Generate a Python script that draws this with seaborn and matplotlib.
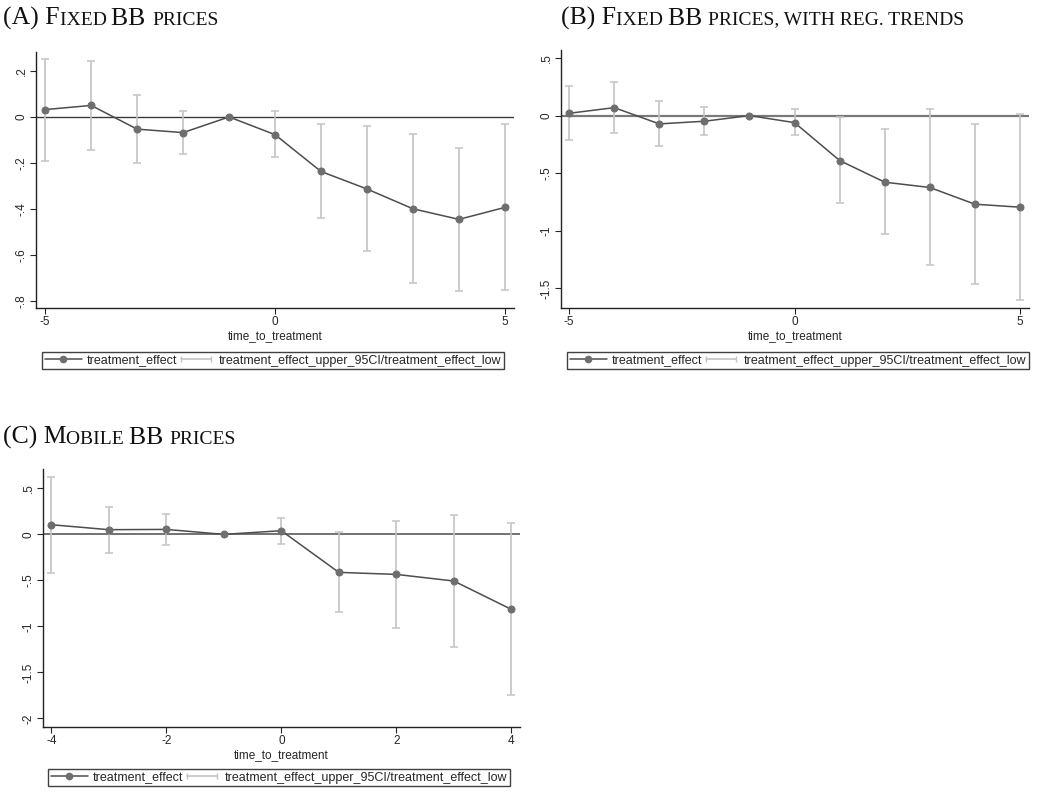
import matplotlib
matplotlib.use("Agg")
import matplotlib.pyplot as plt
import seaborn as sns
from matplotlib.ticker import FuncFormatter
from matplotlib.offsetbox import TextArea, HPacker, AnchoredOffsetbox
from matplotlib.lines import Line2D
from matplotlib.legend_handler import HandlerLine2D

# ---- data ----
time_ab = [-5, -4, -3, -2, -1, 0, 1, 2, 3, 4, 5]
effect_a = [0.032, 0.05, -0.053, -0.068, 0.0, -0.077, -0.237, -0.313, -0.399, -0.445, -0.393]
upper_a = [0.25, 0.245, 0.095, 0.026, 0.0, 0.025, -0.029, -0.039, -0.072, -0.134, -0.032]
lower_a = [-0.19, -0.145, -0.202, -0.159, 0.0, -0.175, -0.439, -0.582, -0.722, -0.754, -0.751]

effect_b = [0.02, 0.069, -0.072, -0.049, 0.0, -0.061, -0.39, -0.578, -0.624, -0.769, -0.795]
upper_b = [0.257, 0.295, 0.127, 0.072, 0.0, 0.058, -0.009, -0.118, 0.058, -0.072, 0.014]
lower_b = [-0.214, -0.153, -0.263, -0.168, 0.0, -0.17, -0.76, -1.03, -1.30, -1.46, -1.60]

time_c = [-4, -3, -2, -1, 0, 1, 2, 3, 4]
effect_c = [0.105, 0.051, 0.054, 0.0, 0.04, -0.413, -0.435, -0.507, -0.815]
upper_c = [0.627, 0.30, 0.221, 0.0, 0.181, 0.022, 0.149, 0.21, 0.123]
lower_c = [-0.417, -0.199, -0.112, 0.0, -0.105, -0.841, -1.018, -1.221, -1.746]

yticks_a = [-0.8, -0.6, -0.4, -0.2, 0, 0.2]
yticks_b = [-1.5, -1, -0.5, 0, 0.5]
yticks_c = [-2, -1.5, -1, -0.5, 0, 0.5]
xticks_ab = [-5, 0, 5]
xticks_c = [-4, -2, 0, 2, 4]

label_main = "treatment_effect"
label_ci = "treatment_effect_upper_95CI/treatment_effect_low"

sns.set_style("ticks")
plt.rcParams["font.family"] = ["Liberation Sans", "DejaVu Sans"]

fig = plt.figure(figsize=(10.53, 7.93), dpi=100)

line_col = "#4d4d4d"
mark_col = "#6e6e6e"
ci_col = "#c4c4c4"


def stata_fmt(v, pos):
    s = "%g" % v
    s = s.replace("-0.", "-.")
    if s.startswith("0."):
        s = s[1:]
    return s


def panel(rect, t, eff, up, lo, yticks, xticks, ylim, xlim, zero_lw, zero_col, leg_xy):
    ax = fig.add_axes(rect)
    ax.axhline(0, color=zero_col, lw=zero_lw, zorder=1)
    err_lo = [e - l for e, l in zip(eff, lo)]
    err_up = [u - e for e, u in zip(eff, up)]
    ax.errorbar(t, eff, yerr=[err_lo, err_up], fmt="none", ecolor=ci_col,
                elinewidth=1.2, capsize=3, capthick=1.1, zorder=2)
    sns.lineplot(x=t, y=eff, ax=ax, color=line_col, lw=1.1, marker="o",
                 markersize=5, markerfacecolor=mark_col, markeredgecolor=mark_col,
                 zorder=3)
    ax.set_xlim(*xlim)
    ax.set_ylim(*ylim)
    ax.set_xticks(xticks)
    ax.set_yticks(yticks)
    ax.yaxis.set_major_formatter(FuncFormatter(stata_fmt))
    ax.xaxis.set_major_formatter(FuncFormatter(stata_fmt))
    ax.tick_params(axis="y", labelrotation=90, labelsize=8.5, length=4, width=0.8, pad=2)
    ax.tick_params(axis="x", labelsize=8.5, length=4, width=0.8, pad=2)
    for lab in ax.get_yticklabels():
        lab.set_va("center")
    for s in ["top", "right"]:
        ax.spines[s].set_visible(False)
    for s in ["left", "bottom"]:
        ax.spines[s].set_color("#222222")
        ax.spines[s].set_linewidth(1.0)
    ax.set_xlabel("time_to_treatment", fontsize=8.5, labelpad=1)
    ax.set_ylabel("")
    h_main = Line2D([], [], color=line_col, lw=1.1, marker="o", markersize=4.5,
                    markerfacecolor=mark_col, markeredgecolor=mark_col)
    h_ci = Line2D([], [], color=ci_col, lw=1.2, marker="|", markersize=5,
                  markeredgecolor=ci_col)
    leg = ax.legend([h_main, h_ci], [label_main, label_ci], ncol=2, loc="upper left",
                    bbox_to_anchor=leg_xy, bbox_transform=fig.transFigure,
                    fontsize=9, frameon=True, fancybox=False, borderpad=0.2,
                    handlelength=3.0, handletextpad=0.35, columnspacing=0.0,
                    borderaxespad=0,
                    handler_map={h_ci: HandlerLine2D(numpoints=2)})
    leg.get_frame().set_edgecolor("#111111")
    leg.get_frame().set_linewidth(1.0)
    return ax


panel([0.0342, 0.6116, 0.454, 0.3228], time_ab, effect_a, upper_a, lower_a,
      yticks_a, xticks_ab, (-0.83, 0.282), (-5.2, 5.2), 1.0, "#3a3a3a",
      (42 / 1053, 1 - 352 / 793))
panel([0.5328, 0.6116, 0.4444, 0.3253], time_ab, effect_b, upper_b, lower_b,
      yticks_b, xticks_ab, (-1.67, 0.569), (-5.18, 5.2), 1.6, "#7a7a7a",
      (567 / 1053, 1 - 352 / 793))
panel([0.0408, 0.0832, 0.453, 0.3253], time_c, effect_c, upper_c, lower_c,
      yticks_c, xticks_c, (-2.094, 0.71), (-4.145, 4.15), 1.2, "#5a5a5a",
      (48 / 1053, 1 - 769 / 793))


def smallcaps_title(parts, xy):
    kids = []
    for txt, big in parts:
        kids.append(TextArea(txt, textprops=dict(fontsize=18.5 if big else 14,
                                                 family="Liberation Serif",
                                                 color="#111111")))
    box = HPacker(children=kids, align="baseline", pad=0, sep=0)
    anc = AnchoredOffsetbox(loc="lower left", child=box, pad=0, borderpad=0,
                            frameon=False, bbox_to_anchor=xy,
                            bbox_transform=fig.transFigure)
    fig.add_artist(anc)


smallcaps_title([("(A) F", True), ("IXED ", False), ("BB ", True), ("PRICES", False)],
                (3 / 1053, 1 - 30 / 793))
smallcaps_title([("(B) F", True), ("IXED ", False), ("BB ", True),
                 ("PRICES, WITH REG. TRENDS", False)],
                (561 / 1053, 1 - 30 / 793))
smallcaps_title([("(C) M", True), ("OBILE ", False), ("BB ", True), ("PRICES", False)],
                (3 / 1053, 1 - 449 / 793))

fig.savefig("out.png", dpi=100)
